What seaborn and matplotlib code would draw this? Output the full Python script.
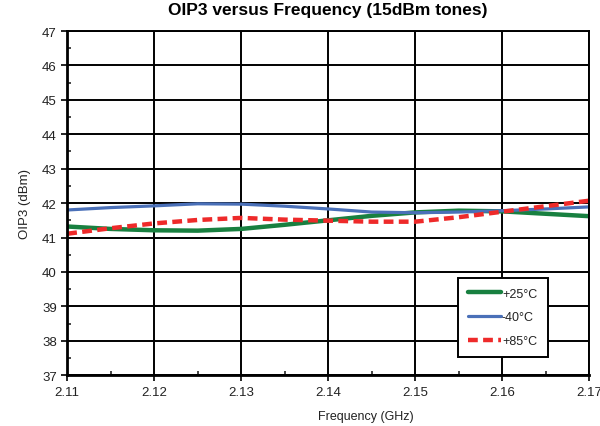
import numpy as np
import pandas as pd
import matplotlib
matplotlib.use("Agg")
import matplotlib.pyplot as plt
import seaborn as sns
from matplotlib.ticker import MultipleLocator

freq = [2.110, 2.115, 2.120, 2.125, 2.130, 2.135, 2.140, 2.145, 2.150, 2.155, 2.160, 2.165, 2.170]
oip3_25c = [41.32, 41.25, 41.21, 41.20, 41.25, 41.37, 41.50, 41.63, 41.73, 41.78, 41.76, 41.69, 41.62]
oip3_m40c = [41.80, 41.87, 41.92, 41.98, 41.97, 41.91, 41.83, 41.74, 41.72, 41.74, 41.78, 41.83, 41.89]
oip3_85c = [41.11, 41.27, 41.41, 41.51, 41.57, 41.52, 41.49, 41.46, 41.46, 41.59, 41.75, 41.91, 42.07]

df = pd.DataFrame({
    "freq": freq * 3,
    "oip3": oip3_25c + oip3_m40c + oip3_85c,
    "temp": ["+25°C"] * len(freq) + ["-40°C"] * len(freq) + ["+85°C"] * len(freq),
})

sns.set_style("white")
plt.rcParams["font.family"] = ["Liberation Sans", "DejaVu Sans"]

fig = plt.figure(figsize=(6, 4.27), dpi=100)
ax = fig.add_axes([0.112, 0.119, 0.87, 0.806])

styles = {
    "+25°C": dict(color="#188040", lw=3.2, ls="-"),
    "-40°C": dict(color="#4a70b8", lw=2.3, ls="-"),
    "+85°C": dict(color="#ee2a2a", lw=3.2, ls=(0, (2.2, 1.2))),
}
for name, st in styles.items():
    sub = df[df["temp"] == name]
    sns.lineplot(data=sub, x="freq", y="oip3", ax=ax, label=name,
                 color=st["color"], linewidth=st["lw"], linestyle=st["ls"])

ax.set_xlim(2.11, 2.17)
ax.set_ylim(37, 47)
ax.xaxis.set_major_locator(MultipleLocator(0.01))
ax.xaxis.set_minor_locator(MultipleLocator(0.005))
ax.yaxis.set_major_locator(MultipleLocator(1))
ax.yaxis.set_minor_locator(MultipleLocator(0.5))
ax.set_xticklabels([f"{v:.2f}" for v in ax.get_xticks()])
ax.grid(True, which="major", color="black", linewidth=1.4)
ax.tick_params(which="major", direction="out", length=4, width=1.2, labelsize=9.5,
               colors="black", labelcolor="#222222")
ax.tick_params(which="minor", direction="in", length=3, width=1.2)
ax.tick_params(axis="x", which="both", bottom=True)
ax.tick_params(axis="y", which="both", left=True)
for s in ["left", "bottom"]:
    ax.spines[s].set_linewidth(2)
    ax.spines[s].set_color("black")
for s in ["top", "right"]:
    ax.spines[s].set_linewidth(1.4)
    ax.spines[s].set_color("black")

ax.set_title("OIP3 versus Frequency (15dBm tones)", fontsize=12.5, fontweight="bold",
             pad=12, color="black")
ax.set_xlabel("Frequency (GHz)", fontsize=9, color="#222222")
ax.xaxis.set_label_coords(0.573, -0.102)
ax.set_ylabel("OIP3 (dBm)", fontsize=9.5, color="#222222", labelpad=8)

leg = ax.legend(loc="lower left", bbox_to_anchor=(0.749, 0.052, 0.172, 0.218), mode="expand",
                fontsize=9, frameon=True, fancybox=False, handlelength=2.6,
                handletextpad=0.1, labelspacing=0.95, borderpad=0.8, borderaxespad=0)
leg.get_frame().set_edgecolor("black")
leg.get_frame().set_linewidth(1.4)
leg.get_frame().set_alpha(1)
for t in leg.get_texts():
    t.set_color("#222222")

fig.savefig("out.png", dpi=100)
